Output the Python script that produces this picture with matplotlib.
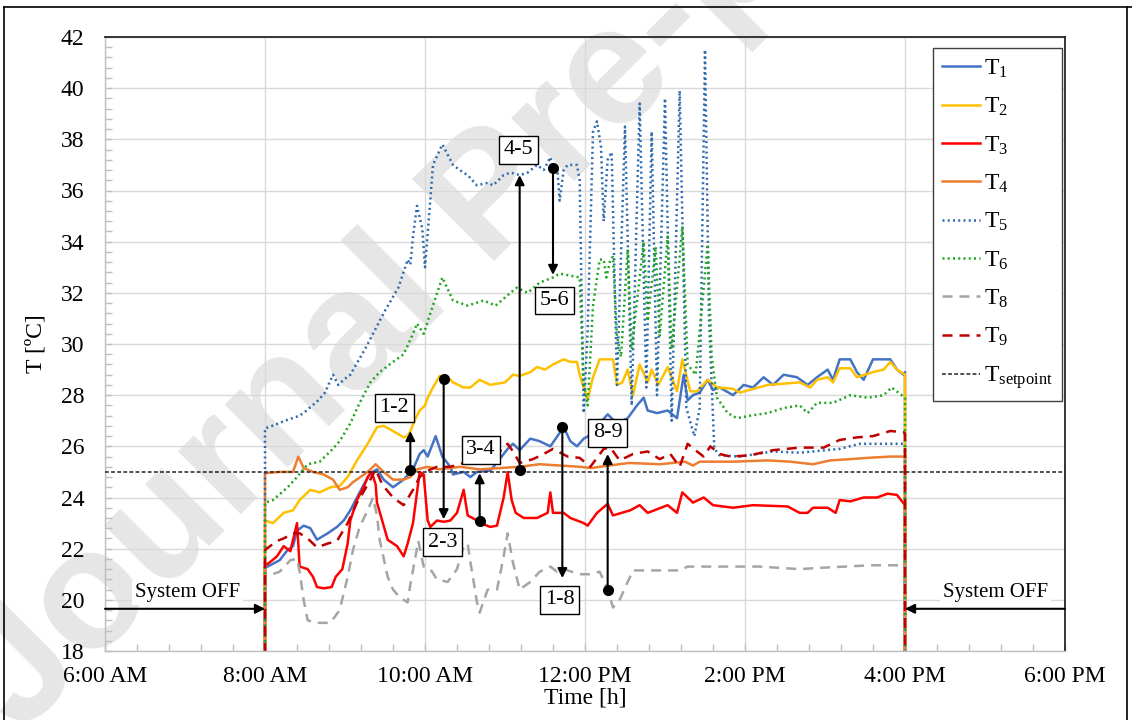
"""Indoor temperatures T1..T9 during one working day (system on 8:00 AM - 4:00 PM)."""
from __future__ import annotations

import matplotlib
matplotlib.use("Agg")  # headless
import matplotlib.pyplot as plt
from matplotlib.lines import Line2D
from matplotlib.ticker import MultipleLocator

# --- readings: (minutes after 8:00 AM, temperature in degC) ---
T1 = [(0, 21.3), (2, 21.3), (11, 21.55), (17, 21.95), (21, 22.1), (24, 22.7), (29, 22.9), (34, 22.8),
      (39, 22.35), (47, 22.6), (54, 22.85), (59, 23.1), (64, 23.5), (69, 24.0), (74, 24.5), (79, 24.95),
      (84, 25.1), (89, 24.7), (96, 24.4), (104, 24.7), (111, 25.1), (116, 25.7), (119, 25.85), (122, 25.6),
      (128, 26.4), (133, 25.6), (139, 25.2), (141, 24.9), (149, 25.0), (154, 24.8), (159, 25.0), (169, 25.05),
      (176, 25.5), (182, 25.9), (186, 26.1), (191, 25.85), (199, 26.3), (206, 26.2), (214, 26.0), (218, 26.3),
      (224, 26.75), (229, 26.2), (234, 26.0), (239, 26.3), (246, 26.5), (251, 26.9), (257, 27.25), (264, 26.9),
      (272, 27.1), (279, 27.6), (284, 27.9), (287, 27.4), (294, 27.3), (302, 27.4), (309, 27.1), (314, 28.8),
      (317, 27.8), (321, 28.0), (326, 28.1), (332, 28.6), (336, 28.2), (341, 28.3), (351, 28.0), (359, 28.4),
      (366, 28.3), (374, 28.7), (381, 28.4), (389, 28.8), (399, 28.7), (407, 28.4), (414, 28.7), (422, 29.0),
      (426, 28.6), (431, 29.4), (439, 29.4), (444, 28.9), (449, 28.6), (456, 29.4), (469, 29.4), (474, 29.0),
      (479, 28.8), (480, 28.9)]
T2 = [(0, 23.1), (6, 23.0), (14, 23.4), (21, 23.5), (26, 23.9), (34, 24.3), (41, 24.2), (49, 24.4),
      (56, 24.45), (62, 24.8), (69, 25.45), (77, 26.1), (84, 26.75), (89, 26.8), (96, 26.6), (104, 26.35),
      (107, 26.4), (109, 26.6), (113, 27.1), (116, 27.4), (120, 27.6), (122, 27.9), (126, 28.3), (131, 28.75),
      (137, 28.7), (141, 28.5), (149, 28.3), (154, 28.3), (161, 28.6), (169, 28.4), (174, 28.45), (180, 28.5),
      (186, 28.8), (191, 28.75), (199, 28.9), (204, 29.1), (210, 29.0), (216, 29.2), (224, 29.4), (229, 29.3),
      (234, 29.3), (236, 28.8), (239, 28.3), (242, 27.85), (246, 28.7), (251, 29.4), (261, 29.4), (264, 28.4),
      (268, 28.5), (272, 29.0), (276, 28.0), (281, 29.2), (287, 28.5), (290, 29.0), (295, 28.4), (302, 29.1),
      (309, 28.15), (313, 29.4), (319, 28.15), (324, 28.15), (332, 28.6), (339, 28.3), (351, 28.25), (356, 28.1),
      (377, 28.4), (401, 28.5), (409, 28.3), (414, 28.6), (422, 28.7), (426, 28.5), (431, 29.05), (439, 29.05),
      (444, 28.7), (456, 28.9), (464, 29.0), (469, 29.3), (474, 29.0), (480, 28.8)]
T3 = [(0, 21.4), (2, 21.4), (9, 21.7), (14, 22.1), (19, 21.9), (24, 23.0), (26, 21.3), (32, 21.2),
      (36, 20.9), (39, 20.5), (44, 20.45), (50, 20.5), (53, 20.9), (58, 21.2), (62, 22.2), (64, 23.1),
      (69, 23.9), (74, 24.4), (77, 24.8), (80, 25.0), (83, 24.5), (84, 23.8), (92, 22.35), (99, 22.1),
      (104, 21.7), (107, 22.2), (111, 23.0), (114, 24.2), (116, 25.0), (119, 24.9), (122, 23.1), (124, 22.85),
      (129, 23.1), (134, 23.05), (139, 23.1), (144, 23.4), (149, 24.3), (152, 23.3), (159, 23.1), (164, 22.95),
      (169, 22.85), (174, 22.9), (179, 24.0), (182, 25.0), (185, 23.9), (188, 23.4), (194, 23.2), (204, 23.2),
      (212, 23.4), (214, 24.2), (216, 23.4), (224, 23.4), (229, 23.2), (239, 23.0), (242, 22.9), (249, 23.4),
      (257, 23.75), (261, 23.3), (274, 23.5), (281, 23.7), (287, 23.4), (302, 23.7), (309, 23.4), (313, 24.2),
      (321, 23.8), (329, 24.0), (336, 23.7), (351, 23.6), (366, 23.7), (392, 23.65), (401, 23.4), (407, 23.4),
      (411, 23.6), (422, 23.6), (428, 23.4), (431, 23.9), (439, 23.85), (449, 24.0), (459, 24.0), (467, 24.15),
      (474, 24.1), (480, 23.7)]
T4 = [(0, 24.95), (11, 25.0), (21, 25.0), (25, 25.6), (29, 25.15), (36, 25.0), (44, 24.9), (51, 24.7),
      (56, 24.3), (62, 24.4), (66, 24.6), (77, 25.0), (83, 25.3), (89, 25.0), (96, 24.7), (104, 24.7),
      (109, 24.8), (114, 25.1), (122, 25.2), (131, 25.1), (146, 25.2), (161, 25.1), (176, 25.15), (191, 25.2),
      (206, 25.3), (221, 25.25), (236, 25.2), (245, 25.15), (251, 25.2), (273, 25.35), (296, 25.3), (315, 25.4),
      (321, 25.25), (326, 25.4), (351, 25.4), (377, 25.45), (394, 25.4), (411, 25.3), (424, 25.45), (439, 25.5),
      (452, 25.55), (469, 25.6), (480, 25.6)]
T5 = [(0, 26.7), (8, 26.85), (15, 27.0), (26, 27.2), (30, 27.35), (40, 27.8), (45, 28.1), (51, 28.8),
      (55, 28.4), (59, 28.6), (64, 28.8), (75, 29.8), (90, 31.3), (100, 32.2), (107, 33.3), (109, 33.1),
      (111, 34.2), (114, 35.4), (118, 34.5), (120, 33.0), (122, 34.3), (126, 37.0), (133, 37.8), (141, 37.0),
      (146, 36.8), (152, 36.6), (159, 36.2), (167, 36.3), (171, 36.2), (179, 36.6), (184, 36.7), (191, 36.6),
      (197, 36.7), (204, 37.0), (209, 36.8), (214, 37.3), (216, 36.8), (219, 37.0), (221, 35.6), (224, 36.8),
      (227, 37.0), (234, 37.0), (236, 36.4), (239, 27.3), (242, 30.5), (246, 38.3), (249, 38.7), (252, 37.7),
      (254, 34.8), (257, 37.2), (260, 37.5), (264, 28.4), (270, 38.5), (275, 27.6), (281, 39.4), (286, 28.3),
      (290, 38.3), (294, 28.0), (300, 39.6), (305, 27.0), (311, 39.9), (316, 27.5), (322, 26.4), (326, 27.5),
      (330, 41.5), (333, 31.0), (337, 25.9), (341, 25.65), (356, 25.6), (381, 25.8), (401, 25.75), (431, 25.9),
      (446, 26.1), (480, 26.1)]
T6 = [(0, 23.8), (6, 23.9), (17, 24.4), (24, 24.8), (32, 25.3), (41, 25.4), (49, 25.8), (56, 26.2),
      (64, 26.9), (71, 27.7), (79, 28.5), (86, 28.9), (96, 29.3), (104, 29.6), (111, 30.4), (114, 30.8),
      (119, 30.4), (124, 31.2), (133, 32.6), (141, 31.7), (152, 31.5), (164, 31.7), (173, 31.5), (184, 32.0),
      (189, 32.2), (197, 32.0), (206, 32.4), (216, 32.6), (221, 32.75), (236, 32.6), (239, 28.5), (242, 27.6),
      (246, 31.5), (251, 33.3), (254, 33.3), (256, 32.6), (259, 33.3), (261, 33.4), (264, 30.3), (267, 29.5),
      (272, 33.7), (275, 29.8), (284, 34.0), (287, 30.9), (293, 33.8), (296, 30.3), (302, 34.2), (305, 29.8),
      (313, 34.6), (317, 29.2), (323, 28.8), (326, 30.5), (332, 33.9), (335, 29.5), (339, 27.9), (347, 27.3),
      (354, 27.1), (364, 27.2), (377, 27.3), (389, 27.5), (401, 27.6), (407, 27.3), (414, 27.7), (426, 27.7),
      (439, 28.0), (452, 27.9), (464, 28.0), (470, 28.3), (480, 27.9)]
T8 = [(0, 20.9), (11, 21.1), (19, 21.55), (24, 21.6), (26, 21.1), (29, 20.0), (32, 19.2), (39, 19.1),
      (49, 19.1), (56, 19.6), (62, 20.9), (66, 21.95), (71, 22.85), (77, 23.5), (81, 24.0), (84, 23.3),
      (86, 22.35), (92, 20.9), (96, 20.4), (101, 20.1), (107, 19.9), (109, 20.6), (115, 22.3), (119, 21.3),
      (124, 21.2), (129, 20.8), (137, 20.7), (144, 21.2), (149, 22.1), (152, 22.2), (154, 21.5), (159, 19.9),
      (161, 19.5), (167, 20.4), (174, 20.4), (179, 21.7), (182, 22.6), (186, 21.45), (191, 20.4), (199, 20.7),
      (206, 21.1), (214, 21.3), (219, 21.1), (224, 21.2), (236, 21.0), (244, 21.0), (251, 21.1), (257, 20.4),
      (261, 19.7), (266, 20.0), (272, 20.7), (276, 21.15), (311, 21.15), (317, 21.3), (371, 21.3), (401, 21.2),
      (416, 21.25), (454, 21.35), (480, 21.35)]
T9 = [(0, 21.95), (9, 22.3), (14, 22.4), (21, 22.6), (26, 22.6), (32, 22.4), (39, 22.05), (47, 22.2),
      (54, 22.3), (62, 23.0), (69, 23.8), (77, 24.5), (83, 25.1), (88, 24.5), (96, 24.0), (104, 23.7),
      (111, 24.3), (116, 24.8), (122, 25.05), (129, 25.2), (139, 25.2), (149, 25.35), (161, 25.4), (174, 25.7),
      (182, 26.1), (186, 25.8), (191, 25.35), (201, 25.5), (209, 25.7), (216, 25.9), (227, 25.6), (236, 25.55),
      (244, 25.2), (254, 25.9), (259, 25.95), (266, 25.45), (276, 25.7), (287, 25.8), (296, 25.5), (304, 25.7),
      (311, 25.2), (317, 26.1), (324, 25.8), (329, 25.6), (334, 26.0), (341, 25.7), (349, 25.6), (364, 25.65),
      (381, 25.85), (401, 25.95), (419, 25.95), (431, 26.25), (444, 26.35), (456, 26.4), (469, 26.6), (479, 26.55),
      (480, 26.5)]
SETPOINT = 25.0

START_HOUR = 8.0      # system switched on
END_MIN = 480         # switched off at 4:00 PM
OFF_READING = 0.0     # logger value while the system is off

# paired differences marked on the chart
PAIR_LABELS = ["1-2", "2-3", "3-4", "4-5", "5-6", "1-8", "8-9"]
PAIR_MIN = [109, 134, 161, 191, 216, 223, 257]
PAIR_FROM = [25.07, 28.65, 23.1, 25.07, 36.87, 26.75, 20.4]
PAIR_TO = [26.6, 23.15, 24.95, 36.6, 32.7, 20.85, 25.7]
PAIR_BOX_MIN = [97, 133, 162, 190, 217, 221, 257]
PAIR_BOX_T = [27.5, 22.25, 25.87, 37.6, 31.7, 20.0, 26.53]

OFF_SPANS = [(6.0, 8.0), (18.0, 16.0)]   # arrow tail -> head, hours
OFF_TEXT_H = [7.03, 17.13]
OFF_ARROW_T = 19.65
OFF_TEXT_T = 20.3

X_TICKS = [6, 8, 10, 12, 14, 16, 18]
X_TICK_LABELS = ["6:00 AM", "8:00 AM", "10:00 AM", "12:00 PM", "2:00 PM", "4:00 PM", "6:00 PM"]
Y_TICKS = list(range(18, 43, 2))


def _hours(m):
    return START_HOUR + m / 60.0


def _series(points):
    mins = [0] + [p[0] for p in points] + [END_MIN]
    temps = [OFF_READING] + [p[1] for p in points] + [OFF_READING]
    return [_hours(m) for m in mins], temps


def _setup_style():
    plt.rcParams.update({
        "font.family": ["Liberation Serif", "DejaVu Serif"],
        "font.size": 17,
        "mathtext.fontset": "custom",
        "mathtext.rm": "Liberation Serif",
        "mathtext.it": "Liberation Serif:italic",
        "mathtext.bf": "Liberation Serif:bold",
    })


def main():
    _setup_style()
    W, H = 1132, 720
    fig = plt.figure(figsize=(W / 100, H / 100), dpi=100)
    ax = fig.add_axes([105 / W, 69 / H, 960 / W, 614 / H])

    dash = (0, (4, 2.8))
    dot = (0, (0.8, 1.3))
    lines = [
        (T1, r"T$_{1}$", "#4472C4", "-"),
        (T2, r"T$_{2}$", "#FFC000", "-"),
        (T3, r"T$_{3}$", "#FF0000", "-"),
        (T4, r"T$_{4}$", "#ED7D31", "-"),
        (T5, r"T$_{5}$", "#2E6AAE", dot),
        (T6, r"T$_{6}$", "#1FA51F", dot),
        (T8, r"T$_{8}$", "#A5A5A5", dash),
        (T9, r"T$_{9}$", "#C00000", dash),
    ]
    for pts, label, color, ls in lines:
        x, y = _series(pts)
        ax.plot(x, y, color=color, linestyle=ls, lw=1.8, label=label, zorder=2)
    ax.axhline(SETPOINT, color="#202020", linestyle=(0, (2.5, 1.5)), lw=1.1,
               label=r"T$_{\mathrm{setpoint}}$", zorder=3)

    # pair arrows with dot at the start
    arrow_kw = dict(arrowstyle="-|>", color="black", lw=1.5, mutation_scale=14,
                    shrinkA=0, shrinkB=0)
    for lab, m, v0, v1, bm, bv in zip(PAIR_LABELS, PAIR_MIN, PAIR_FROM, PAIR_TO,
                                      PAIR_BOX_MIN, PAIR_BOX_T):
        x = _hours(m)
        ax.annotate("", xy=(x, v1), xytext=(x, v0), arrowprops=arrow_kw, zorder=6)
        ax.plot(x, v0, "o", color="black", ms=7, zorder=6)
        ax.text(_hours(bm), bv, lab, ha="center", va="center", fontsize=16, zorder=7,
                bbox=dict(boxstyle="square,pad=0.2", fc="white", ec="black", lw=1.0))

    for (x0, x1), tx in zip(OFF_SPANS, OFF_TEXT_H):
        ax.annotate("", xy=(x1, OFF_ARROW_T), xytext=(x0, OFF_ARROW_T), arrowprops=arrow_kw, zorder=6)
        ax.text(tx, OFF_TEXT_T, "System OFF", ha="center", va="center", fontsize=15, zorder=5,
                bbox=dict(boxstyle="square,pad=0.15", fc="white", ec="none"))

    ax.set_xlim(X_TICKS[0], X_TICKS[-1])
    ax.set_ylim(Y_TICKS[0], Y_TICKS[-1])
    ax.set_xticks(X_TICKS)
    ax.set_xticklabels(X_TICK_LABELS)
    ax.set_yticks(Y_TICKS)
    ax.xaxis.set_minor_locator(MultipleLocator(0.4))
    ax.yaxis.set_minor_locator(MultipleLocator(0.4))
    ax.tick_params(which="both", direction="in", color="#BFBFBF", length=5, width=1.0)
    ax.tick_params(axis="y", which="major", pad=15)
    ax.tick_params(axis="x", which="major", pad=11)
    ax.grid(True, which="major", color="#D9D9D9", lw=1.0)
    ax.set_axisbelow(True)
    ax.patch.set_visible(False)
    for side in ("left", "bottom"):
        ax.spines[side].set_color("#BFBFBF")
        ax.spines[side].set_linewidth(1.0)
    for side in ("top", "right"):
        ax.spines[side].set_color("#262626")
        ax.spines[side].set_linewidth(1.3)

    ax.set_ylabel("T [ºC]", labelpad=10)
    ax.set_xlabel("Time [h]", labelpad=0)

    leg = ax.legend(loc="upper right", bbox_to_anchor=(0.997, 0.982), fontsize=17,
                    frameon=True, fancybox=False, edgecolor="#404040", framealpha=1,
                    handlelength=1.6, handletextpad=0.15, labelspacing=0.68,
                    borderpad=0.4, borderaxespad=0)
    leg.get_frame().set_linewidth(1.0)
    leg.set_zorder(8)

    # journal watermark, kept under the grid and tick labels
    ax.text(20 / W, 1 - 735 / H, "Journal Pre-proof", transform=fig.transFigure,
            family="Liberation Sans", weight="bold", fontsize=122, color="#E6E6E6", rotation=45,
            rotation_mode="anchor", ha="left", va="baseline", zorder=0.3, clip_on=False)

    # outer frame of the figure panel
    for xs, ys in (([4, 4], [720, 7]), ([4, 1132], [7, 7]), ([1127, 1127], [7, 720])):
        fig.add_artist(Line2D([v / W for v in xs], [1 - v / H for v in ys],
                              transform=fig.transFigure, color="black", lw=1.2))

    fig.savefig("out.png", dpi=100)
    plt.close(fig)


if __name__ == "__main__":
    main()
